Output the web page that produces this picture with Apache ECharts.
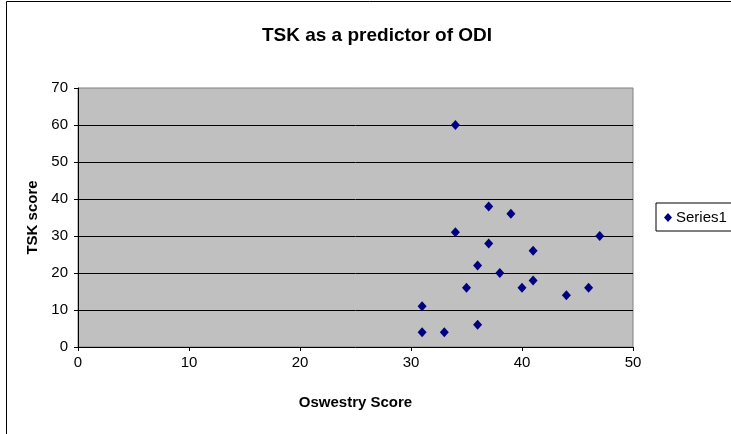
<!DOCTYPE html>
<html>
<head>
<meta charset="utf-8">
<script src="https://cdn.jsdelivr.net/npm/echarts@6/dist/echarts.min.js"></script>
<style>
html,body{margin:0;padding:0;background:#fff;}
#c{width:731px;height:434px;}
</style>
</head>
<body>
<div id="c"></div>
<script>
// Data
var oswestry = [34, 37, 39, 34, 47, 37, 41, 36, 38, 41, 35, 40, 46, 44, 31, 36, 31, 33];
var tsk      = [60, 38, 36, 31, 30, 28, 26, 22, 20, 18, 16, 16, 16, 14, 11, 6, 4, 4];
var seriesName = 'Series1';
var titleText = 'TSK as a predictor of ODI';
var xName = 'Oswestry Score';
var yName = 'TSK score';

var pts = oswestry.map(function (x, i) { return [x, tsk[i]]; });
var font = '"Liberation Sans", Arial, sans-serif';

var chart = echarts.init(document.getElementById('c'), null, {renderer: 'canvas'});
chart.setOption({
  animation: false,
  backgroundColor: '#ffffff',
  title: {
    text: titleText,
    left: 372, top: 21, textAlign: 'center',
    textStyle: {fontFamily: font, fontSize: 19, fontWeight: 'bold', color: '#000'}
  },
  legend: {
    left: 656, top: 203,
    orient: 'vertical',
    icon: 'diamond',
    itemWidth: 8, itemHeight: 9, itemGap: 0,
    padding: [7, 20, 6, 8],
    borderColor: '#000', borderWidth: 1,
    backgroundColor: '#fff',
    textStyle: {fontFamily: font, fontSize: 15, color: '#000', padding: [0, 0, 0, -1]},
    data: [seriesName]
  },
  grid: {
    left: 78, right: 98, top: 88, bottom: 87,
    show: true, backgroundColor: '#C0C0C0', borderColor: '#808080', borderWidth: 1
  },
  xAxis: {
    type: 'value', min: 0, max: 50, interval: 10,
    name: xName, nameLocation: 'middle', nameGap: 48,
    nameTextStyle: {fontFamily: font, fontSize: 15, fontWeight: 'bold', color: '#000'},
    axisLine: {show: true, onZero: false, lineStyle: {color: '#000', width: 1}},
    axisTick: {show: true, inside: false, length: 4, lineStyle: {color: '#000'}},
    axisLabel: {fontFamily: font, fontSize: 15, color: '#000', margin: 8},
    splitLine: {show: false}
  },
  yAxis: {
    type: 'value', min: 0, max: 70, interval: 10,
    name: yName, nameLocation: 'middle', nameGap: 34, nameRotate: 90,
    nameTextStyle: {fontFamily: font, fontSize: 15, fontWeight: 'bold', color: '#000'},
    axisLine: {show: true, onZero: false, lineStyle: {color: '#000', width: 1}},
    axisTick: {show: true, inside: false, length: 4, lineStyle: {color: '#000'}},
    axisLabel: {fontFamily: font, fontSize: 15, color: '#000', margin: 10},
    splitLine: {show: true, showMinLine: false, showMaxLine: false, lineStyle: {color: '#000', width: 1}}
  },
  series: [{
    name: seriesName,
    type: 'scatter',
    symbol: 'diamond',
    symbolSize: [9, 10],
    itemStyle: {color: '#000080', opacity: 1},
    data: pts
  }],
  graphic: [{
    type: 'rect',
    shape: {x: 6.5, y: 1.5, width: 800, height: 600},
    style: {fill: 'none', stroke: '#000', lineWidth: 1},
    silent: true, z: 100
  }]
});
</script>
</body>
</html>
